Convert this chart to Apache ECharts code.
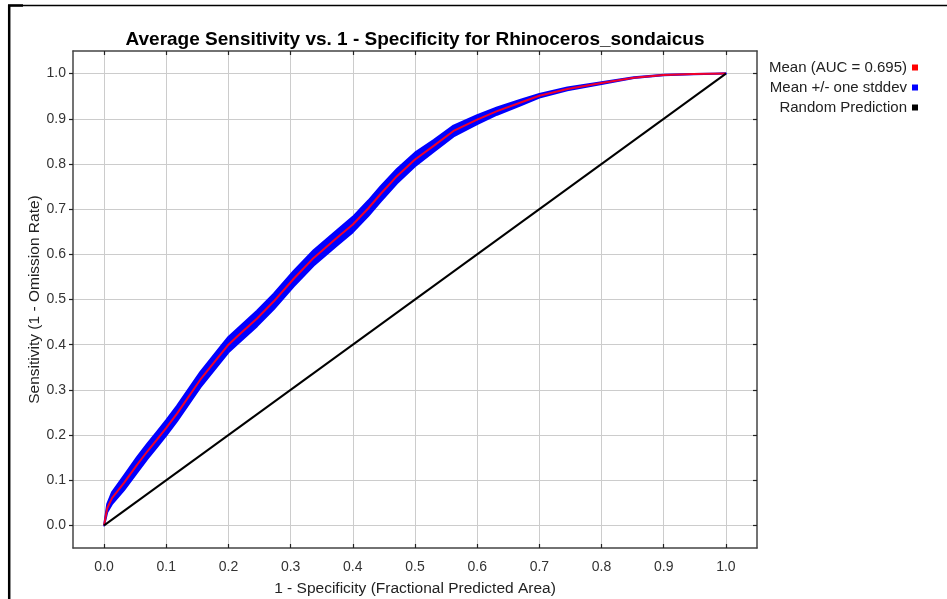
<!DOCTYPE html>
<html>
<head>
<meta charset="utf-8">
<script src="https://cdn.jsdelivr.net/npm/echarts@6/dist/echarts.min.js"></script>
<style>html,body{margin:0;padding:0;background:#fff;}#c{width:947px;height:599px;}</style>
</head>
<body>
<div id="c"></div>
<script>
// ---- data ----
const fpr = [0, 0.005, 0.013, 0.032, 0.053, 0.069, 0.085, 0.1, 0.117, 0.155, 0.187, 0.2, 0.214, 0.246, 0.273, 0.305, 0.337, 0.375, 0.4, 0.425, 0.445, 0.471, 0.5, 0.53, 0.562, 0.6, 0.632, 0.67, 0.7, 0.745, 0.8, 0.852, 0.9, 0.948, 1.0];
const meanSens = [0, 0.038, 0.061, 0.094, 0.134, 0.163, 0.190, 0.216, 0.247, 0.323, 0.378, 0.400, 0.418, 0.458, 0.496, 0.546, 0.592, 0.637, 0.666, 0.702, 0.734, 0.773, 0.810, 0.840, 0.873, 0.898, 0.917, 0.936, 0.951, 0.966, 0.979, 0.991, 0.997, 0.999, 1.0];
const upperSens = [0, 0.047, 0.074, 0.110, 0.151, 0.180, 0.207, 0.233, 0.264, 0.340, 0.395, 0.417, 0.435, 0.475, 0.513, 0.563, 0.609, 0.654, 0.683, 0.719, 0.751, 0.789, 0.825, 0.853, 0.885, 0.908, 0.925, 0.942, 0.955, 0.969, 0.981, 0.992, 0.9975, 0.9993, 1.0];
const lowerSens = [0, 0.029, 0.048, 0.078, 0.117, 0.146, 0.173, 0.199, 0.230, 0.306, 0.361, 0.383, 0.401, 0.441, 0.479, 0.529, 0.575, 0.620, 0.649, 0.685, 0.717, 0.757, 0.795, 0.827, 0.861, 0.888, 0.909, 0.930, 0.947, 0.963, 0.977, 0.990, 0.9965, 0.9987, 1.0];
const randomX = [0, 1];
const randomY = [0, 1];
const tickValues = [0, 0.1, 0.2, 0.3, 0.4, 0.5, 0.6, 0.7, 0.8, 0.9, 1.0];
const seriesNames = ['Mean (AUC = 0.695)', 'Mean +/- one stddev', 'Random Prediction'];
const titleText = 'Average Sensitivity vs. 1 - Specificity for Rhinoceros_sondaicus';
const xName = '1 - Specificity (Fractional Predicted Area)';
const yName = 'Sensitivity (1 - Omission Rate)';

const FONT = '"Liberation Sans", Arial, sans-serif';
const frameColor = '#444';

function makeAxis(pos, opts) {
  const isMain = opts.main;
  return Object.assign({
    type: 'value',
    position: pos,
    min: -0.05,
    max: 1.05,
    axisLine: { show: true, onZero: false, lineStyle: { color: frameColor, width: 1.5 } },
    axisTick: { show: true, inside: opts.inside, length: 4, customValues: tickValues, lineStyle: { color: '#222', width: 1.2 } },
    axisLabel: { show: isMain, customValues: tickValues, formatter: v => v.toFixed(1), color: '#333', fontSize: 14, fontFamily: FONT, margin: opts.margin || 8 },
    splitLine: { show: isMain, lineStyle: { color: '#cccccc', width: 1 } },
  }, opts.extra || {});
}

const chart = echarts.init(document.getElementById('c'), null, { renderer: 'canvas' });
const option = {
  backgroundColor: '#ffffff',
  animation: false,
  title: {
    text: titleText,
    left: 415, top: 30, textAlign: 'center', padding: 0,
    textStyle: { fontFamily: FONT, fontWeight: 'bold', fontSize: 19, color: '#000' }
  },
  legend: seriesNames.map((n, i) => ({
    data: [n], orient: 'vertical', align: 'right', right: 29, top: 60 + i * 20, padding: 0,
    icon: 'rect', itemWidth: 6, itemHeight: 6, selectedMode: false,
    textStyle: { fontFamily: FONT, fontSize: 15, color: '#222' }
  })),
  grid: { left: 73, right: 190, top: 51, bottom: 51, containLabel: false, outerBoundsMode: 'none' },
  xAxis: [
    makeAxis('bottom', { main: true, inside: true, margin: 12, extra: {
      name: xName, nameLocation: 'middle', nameGap: 33,
      nameTextStyle: { fontFamily: FONT, fontSize: 15.5, color: '#222' } } }),
    makeAxis('top', { main: false, inside: true })
  ],
  yAxis: [
    makeAxis('left', { main: true, inside: false, margin: 7, extra: {
      name: yName, nameLocation: 'middle', nameGap: 30, nameMoveOverlap: false,
      nameTextStyle: { fontFamily: FONT, fontSize: 15.5, color: '#222' } } }),
    makeAxis('right', { main: false, inside: true })
  ],
  graphic: [
    { type: 'line', shape: { x1: 8, y1: 5.5, x2: 947, y2: 5.5 }, style: { stroke: '#000', lineWidth: 1.5 } },
    { type: 'line', shape: { x1: 8, y1: 5.5, x2: 23, y2: 5.5 }, style: { stroke: '#000', lineWidth: 2.5 } },
    { type: 'line', shape: { x1: 9.2, y1: 5, x2: 9.2, y2: 599 }, style: { stroke: '#000', lineWidth: 2.5 } }
  ],
  series: [
    {
      name: seriesNames[1],
      type: 'custom',
      xAxisIndex: 0, yAxisIndex: 0,
      data: fpr.map((x, i) => [x, lowerSens[i], upperSens[i]]),
      encode: { x: 0, y: [1, 2] },
      itemStyle: { color: '#0000ff' },
      z: 2,
      renderItem: function (params, api) {
        if (params.dataIndex !== 0) return null;
        const pts = [];
        for (let i = 0; i < fpr.length; i++) pts.push(api.coord([fpr[i], upperSens[i]]));
        for (let i = fpr.length - 1; i >= 0; i--) pts.push(api.coord([fpr[i], lowerSens[i]]));
        return {
          type: 'polygon',
          shape: { points: pts },
          style: { fill: '#0000ff', stroke: '#0000ff', lineWidth: 2, lineJoin: 'round' }
        };
      }
    },
    {
      name: seriesNames[0],
      type: 'line',
      data: fpr.map((x, i) => [x, meanSens[i]]),
      showSymbol: false, symbol: 'none',
      lineStyle: { color: '#f0002a', width: 2 },
      itemStyle: { color: '#ff0000' },
      z: 3
    },
    {
      name: seriesNames[2],
      type: 'line',
      data: randomX.map((x, i) => [x, randomY[i]]),
      showSymbol: false, symbol: 'none',
      lineStyle: { color: '#000000', width: 2 },
      itemStyle: { color: '#000000' },
      z: 3
    }
  ]
};
chart.setOption(option);
</script>
</body>
</html>
